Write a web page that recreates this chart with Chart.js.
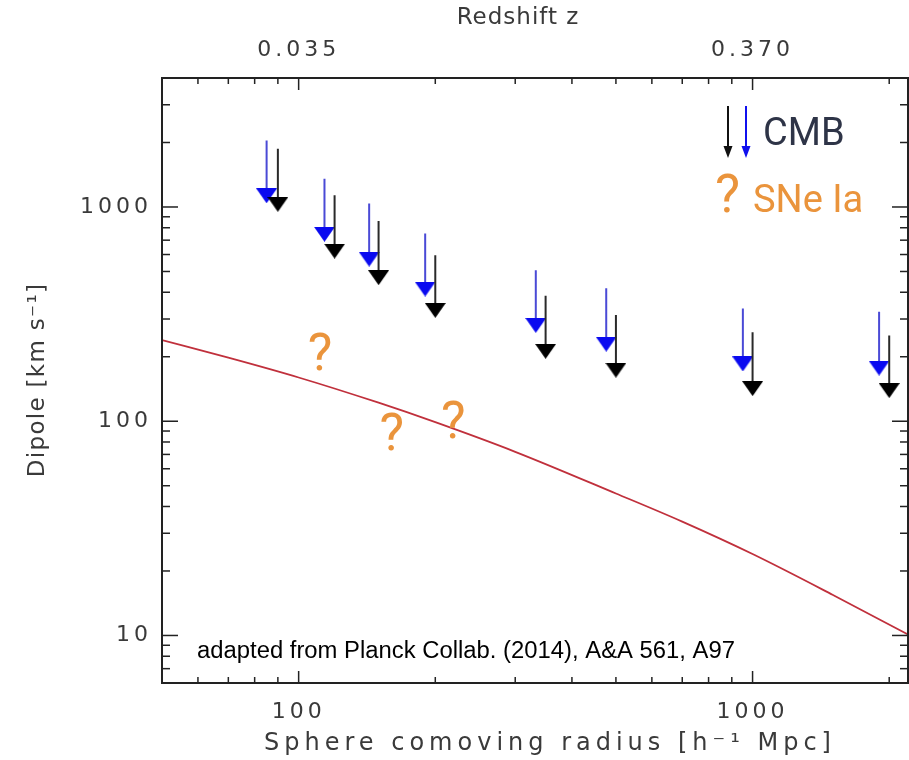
<!DOCTYPE html>
<html>
<head>
<meta charset="utf-8">
<script src="https://cdn.jsdelivr.net/npm/chart.js@4"></script>
<style>
  html, body { margin: 0; padding: 0; background: #fff; overflow: hidden; }
  canvas { display: block; }
</style>
</head>
<body>
<canvas id="dipoleChart" width="909" height="760"></canvas>
<script>
// sphere comoving radius [h^-1 Mpc] of each shell
const cmbRadius = [90, 120, 150, 200, 350, 500, 1000, 2000];
const altRadius = [85, 114, 143, 190, 333, 476, 952, 1900];

// dipole upper limits [km/s] (arrow head) and top of each arrow stem
const cmbLimit   = [1029, 622, 468, 329, 212, 173, 142, 139];
const cmbStemTop = [1871, 1134, 861, 596, 385, 313, 260, 251];
const altLimit   = [1128, 746, 571, 414, 280, 229, 185, 177];
const altStemTop = [2046, 1356, 1037, 752, 507, 417, 336, 324];

// expected bulk-flow dipole
const curveRadius = [50, 70, 100, 150, 200, 300, 500, 700, 1000, 1500, 2200];
const curveDipole = [239, 198, 160, 122, 99, 72, 46, 34, 24, 15.5, 10.1];

// SNe Ia question marks (radius, dipole)
const sneRadius = [111.4, 160.5, 219];
const sneDipole = [211, 89.7, 101.5];

// tick labels
const xTickLabels = { 100: '100', 1000: '1000' };
const zTickLabels = { 100: '0.035', 1000: '0.370' };
const yTickLabels = { 10: '10', 100: '100', 1000: '1000' };

const ORANGE = '#ea943c';
const AXIS_COLOR = '#3a3a3a';
const axisFont = { family: 'DejaVu Sans', size: 22 };

function makeTriangle(color, w, h) {
    const c = document.createElement('canvas');
    c.width = w;
    c.height = h;
    const g = c.getContext('2d');
    g.fillStyle = color;
    g.beginPath();
    g.moveTo(0, 0);
    g.lineTo(w, 0);
    g.lineTo(w / 2, h);
    g.closePath();
    g.fill();
    return c;
}

function stems(xs, tops, limits) {
    const pts = [];
    xs.forEach((x, i) => {
        pts.push({ x: x, y: tops[i] });
        pts.push({ x: x, y: limits[i] });
        pts.push({ x: x, y: null });
    });
    return pts;
}

function isDecade(v) {
    const l = Math.log10(v);
    return Math.abs(l - Math.round(l)) < 1e-9;
}

function isStep(v) {
    const s = v / Math.pow(10, Math.floor(Math.log10(v) + 1e-9));
    return Math.abs(s - Math.round(s)) < 1e-6;
}

// keep the plot box fixed, no extra room for edge labels
function fixHorizontal(h) {
    return s => {
        s.height = h;
        s.paddingLeft = 0;
        s.paddingRight = 0;
    };
}

// wide lettering for the tick labels
const spacing = {
    id: 'spacing',
    beforeDraw(chart) { chart.ctx.letterSpacing = '4px'; },
    beforeDatasetsDraw(chart) { chart.ctx.letterSpacing = '0px'; }
};

// box frame with inward ticks on all four sides
const frameTicks = {
    id: 'frameTicks',
    afterDraw(chart) {
        const { ctx, chartArea: a, scales } = chart;
        ctx.save();
        ctx.strokeStyle = '#222';
        ctx.lineWidth = 1.5;
        const line = (x1, y1, x2, y2) => {
            ctx.beginPath();
            ctx.moveTo(x1, y1);
            ctx.lineTo(x2, y2);
            ctx.stroke();
        };
        scales.x.ticks.forEach(t => {
            if (!isStep(t.value)) return;
            const px = scales.x.getPixelForValue(t.value);
            const len = isDecade(t.value) ? 12 : 6;
            line(px, a.bottom, px, a.bottom - len);
            line(px, a.top, px, a.top + len);
        });
        scales.y.ticks.forEach(t => {
            if (!isStep(t.value)) return;
            const py = scales.y.getPixelForValue(t.value);
            const len = isDecade(t.value) ? 16 : 8;
            line(a.left, py, a.left + len, py);
            line(a.right, py, a.right - len, py);
        });
        ctx.lineWidth = 2;
        ctx.strokeRect(a.left, a.top, a.right - a.left, a.bottom - a.top);
        ctx.restore();
    }
};

// axis titles, question marks, citation and legend
const annotations = {
    id: 'annotations',
    afterDraw(chart) {
        const { ctx, scales } = chart;
        ctx.save();

        // axis titles
        ctx.fillStyle = AXIS_COLOR;
        ctx.textAlign = 'center';
        ctx.textBaseline = 'middle';
        ctx.font = '23px "DejaVu Sans"';
        ctx.letterSpacing = '1px';
        ctx.fillText('Redshift z', 518, 18);
        ctx.font = '24px "DejaVu Sans"';
        ctx.letterSpacing = '5px';
        ctx.fillText('Sphere comoving radius [h⁻¹ Mpc]', 550, 744);
        ctx.save();
        ctx.translate(38, 380);
        ctx.rotate(-Math.PI / 2);
        ctx.font = '23px "DejaVu Sans"';
        ctx.letterSpacing = '1.3px';
        ctx.fillText('Dipole [km s⁻¹]', 0, 0);
        ctx.restore();
        ctx.letterSpacing = '0px';

        ctx.fillStyle = ORANGE;
        ctx.font = '52px Roboto';
        ctx.textAlign = 'center';
        ctx.textBaseline = 'alphabetic';
        sneRadius.forEach((r, i) => {
            const px = scales.x.getPixelForValue(r);
            const py = scales.y.getPixelForValue(sneDipole[i]);
            ctx.fillText('?', px, py + 18.5);
        });

        // citation
        const cite = 'adapted from Planck Collab. (2014), A&A 561, A97';
        ctx.font = '23px "Liberation Sans Narrow", "Liberation Sans", Arial';
        ctx.fillStyle = '#000';
        ctx.textAlign = 'left';
        const w = ctx.measureText(cite).width;
        ctx.save();
        ctx.translate(197, 658);
        ctx.scale(538 / w, 1);
        ctx.fillText(cite, 0, 0);
        ctx.restore();

        // legend arrows
        const arrow = (x, color) => {
            ctx.strokeStyle = color;
            ctx.fillStyle = color;
            ctx.lineWidth = 2;
            ctx.beginPath();
            ctx.moveTo(x, 106);
            ctx.lineTo(x, 148);
            ctx.stroke();
            ctx.beginPath();
            ctx.moveTo(x - 4.5, 146);
            ctx.lineTo(x + 4.5, 146);
            ctx.lineTo(x, 158);
            ctx.closePath();
            ctx.fill();
        };
        arrow(728, '#111');
        arrow(746, '#1010ee');

        ctx.font = '38px Roboto';
        ctx.fillStyle = '#2e3447';
        ctx.fillText('CMB', 763, 145);

        ctx.fillStyle = ORANGE;
        ctx.font = '53px Roboto';
        ctx.textAlign = 'center';
        ctx.fillText('?', 727.5, 211.5);
        ctx.textAlign = 'left';
        ctx.font = '38px Roboto';
        ctx.fillText('SNe Ia', 753, 211.5);

        ctx.restore();
    }
};

const blueHead = makeTriangle('#0a0af0', 21, 15);
const blackHead = makeTriangle('#000', 21, 15);

const ctx = document.getElementById('dipoleChart');
new Chart(ctx, {
    type: 'scatter',
    data: {
        datasets: [
            {
                label: 'CMB limit',
                data: cmbRadius.map((x, i) => ({ x: x, y: cmbLimit[i] })),
                pointStyle: blackHead,
                pointRadius: 10,
                clip: false
            },
            {
                type: 'line',
                label: 'CMB stem',
                data: stems(cmbRadius, cmbStemTop, cmbLimit),
                borderColor: '#2a2a2a',
                borderWidth: 2,
                pointRadius: 0,
                spanGaps: false
            },
            {
                label: 'alt limit',
                data: altRadius.map((x, i) => ({ x: x, y: altLimit[i] })),
                pointStyle: blueHead,
                pointRadius: 10,
                clip: false
            },
            {
                type: 'line',
                label: 'alt stem',
                data: stems(altRadius, altStemTop, altLimit),
                borderColor: '#4a4ad6',
                borderWidth: 2,
                pointRadius: 0,
                spanGaps: false
            },
            {
                type: 'line',
                label: 'bulk flow',
                data: curveRadius.map((x, i) => ({ x: x, y: curveDipole[i] })),
                borderColor: '#c0303c',
                borderWidth: 1.8,
                pointRadius: 0,
                cubicInterpolationMode: 'monotone'
            }
        ]
    },
    options: {
        responsive: false,
        animation: false,
        layout: {
            autoPadding: false,
            padding: { left: 0, right: 1, top: 0, bottom: 0 }
        },
        plugins: {
            legend: { display: false },
            tooltip: { enabled: false }
        },
        scales: {
            x: {
                type: 'logarithmic',
                position: 'bottom',
                min: 50,
                max: 2200,
                afterFit: fixHorizontal(77),
                grid: { display: false, drawTicks: false },
                border: { display: false },
                ticks: {
                    autoSkip: false,
                    maxRotation: 0,
                    padding: 16,
                    color: AXIS_COLOR,
                    font: axisFont,
                    callback: v => xTickLabels[v] || ''
                }
            },
            x2: {
                type: 'logarithmic',
                position: 'top',
                min: 50,
                max: 2200,
                afterFit: fixHorizontal(78),
                grid: { display: false, drawTicks: false },
                border: { display: false },
                ticks: {
                    autoSkip: false,
                    maxRotation: 0,
                    padding: 15,
                    color: AXIS_COLOR,
                    font: axisFont,
                    callback: v => zTickLabels[v] || ''
                }
            },
            y: {
                type: 'logarithmic',
                position: 'left',
                min: 6,
                max: 4000,
                afterFit: s => {
                    s.width = 162;
                    s.paddingTop = 0;
                    s.paddingBottom = 0;
                },
                grid: { display: false, drawTicks: false },
                border: { display: false },
                ticks: {
                    autoSkip: false,
                    padding: 10,
                    color: AXIS_COLOR,
                    font: axisFont,
                    callback: v => yTickLabels[v] || ''
                }
            }
        }
    },
    plugins: [spacing, frameTicks, annotations]
});
</script>
</body>
</html>
